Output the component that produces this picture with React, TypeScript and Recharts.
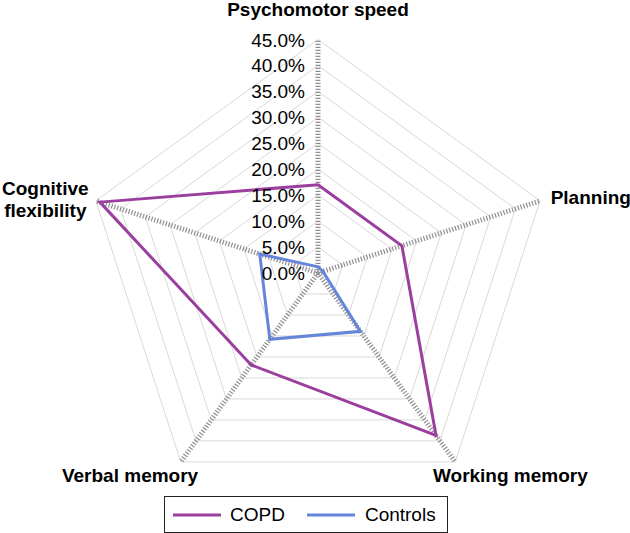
import React from "react";
import {
  RadarChart,
  Radar,
  PolarGrid,
  PolarAngleAxis,
  PolarRadiusAxis,
  Legend,
} from "recharts";

const FONT = '"Liberation Sans", Arial, sans-serif';

const domains = [
  "Psychomotor speed",
  "Planning",
  "Working memory",
  "Verbal memory",
  "Cognitive flexibility",
];
const copd = [17.0, 17.0, 38.7, 21.9, 44.2];
const controls = [1.2, 1.0, 13.9, 15.8, 11.8];
const radiusTicks = [0, 5, 10, 15, 20, 25, 30, 35, 40, 45];

const PURPLE = "#9b3f9f";
const BLUE = "#6585db";

const data = domains.map((d, i) => ({
  domain: d,
  COPD: copd[i],
  Controls: controls[i],
}));

// label nudges relative to the tick point recharts hands us
const LABEL_POS: Record<string, { dx: number; dy: number; anchor: string }> = {
  "Psychomotor speed": { dx: 0, dy: -16, anchor: "middle" },
  Planning: { dx: 3, dy: 5.6, anchor: "start" },
  "Working memory": { dx: -27, dy: 13.3, anchor: "start" },
  "Verbal memory": { dx: -46, dy: 13.3, anchor: "middle" },
  "Cognitive flexibility": { dx: -43, dy: -3.4, anchor: "middle" },
};

const AngleTick = (props: any) => {
  const { x, y, payload } = props;
  const name: string = payload.value;
  const p = LABEL_POS[name] || { dx: 0, dy: 0, anchor: "middle" };
  const lines = name === "Cognitive flexibility" ? ["Cognitive", "flexibility"] : [name];
  return (
    <text
      x={x + p.dx}
      y={y + p.dy}
      textAnchor={p.anchor as any}
      fontFamily={FONT}
      fontSize={19}
      fontWeight="bold"
      fill="#000"
    >
      {lines.map((l, i) => (
        <tspan key={l} x={x + p.dx} dy={i === 0 ? 0 : 21.7}>
          {l}
        </tspan>
      ))}
    </text>
  );
};

const RadiusTick = (props: any) => {
  const { x, y, payload } = props;
  return (
    <text
      x={x - 13}
      y={y + 7}
      textAnchor="end"
      fontFamily={FONT}
      fontSize={19}
      fill="#000"
    >
      {`${Number(payload.value).toFixed(1)}%`}
    </text>
  );
};

const LegendBox = () => (
  <div
    style={{
      boxSizing: "border-box",
      width: 284,
      height: 37,
      border: "1.5px solid #222",
      display: "flex",
      alignItems: "center",
      fontFamily: FONT,
      fontSize: 19,
      color: "#000",
      paddingLeft: 8,
    }}
  >
    <svg width={48} height={4}>
      <line x1={0} y1={2} x2={48} y2={2} stroke={PURPLE} strokeWidth={3} />
    </svg>
    <span style={{ marginLeft: 9 }}>COPD</span>
    <svg width={48} height={4} style={{ marginLeft: 22 }}>
      <line x1={0} y1={2} x2={48} y2={2} stroke={BLUE} strokeWidth={3} />
    </svg>
    <span style={{ marginLeft: 10 }}>Controls</span>
  </div>
);

export default function App() {
  return (
    <div style={{ position: "absolute", left: 0, top: 0, background: "#fff" }}>
      <RadarChart
        width={630}
        height={533}
        data={data}
        cx={318}
        cy={273}
        outerRadius={233.5}
        margin={{ top: 0, right: 0, bottom: 0, left: 0 }}
      >
        <PolarGrid gridType="polygon" radialLines={false} stroke="#d9d9d9" strokeWidth={1} />
        <PolarGrid
          gridType="polygon"
          polarRadius={[]}
          stroke="#8f8f8f"
          strokeWidth={5}
          strokeDasharray="1.2 1.8"
        />
        <PolarAngleAxis
          dataKey="domain"
          axisLine={false}
          tickLine={false}
          tick={<AngleTick />}
        />
        <PolarRadiusAxis
          angle={90}
          domain={[0, 45]}
          ticks={radiusTicks as any}
          axisLine={false}
          tickLine={false}
          tick={<RadiusTick />}
        />
        <Radar
          name="COPD"
          dataKey="COPD"
          stroke={PURPLE}
          strokeWidth={3}
          fill="none"
          fillOpacity={0}
          dot={false}
          isAnimationActive={false}
        />
        <Radar
          name="Controls"
          dataKey="Controls"
          stroke={BLUE}
          strokeWidth={3}
          fill="none"
          fillOpacity={0}
          dot={false}
          isAnimationActive={false}
        />
        <Legend
          verticalAlign="bottom"
          content={<LegendBox />}
          wrapperStyle={{ left: 164, top: 496, bottom: "auto", width: 284, height: 37 }}
        />
      </RadarChart>
    </div>
  );
}
